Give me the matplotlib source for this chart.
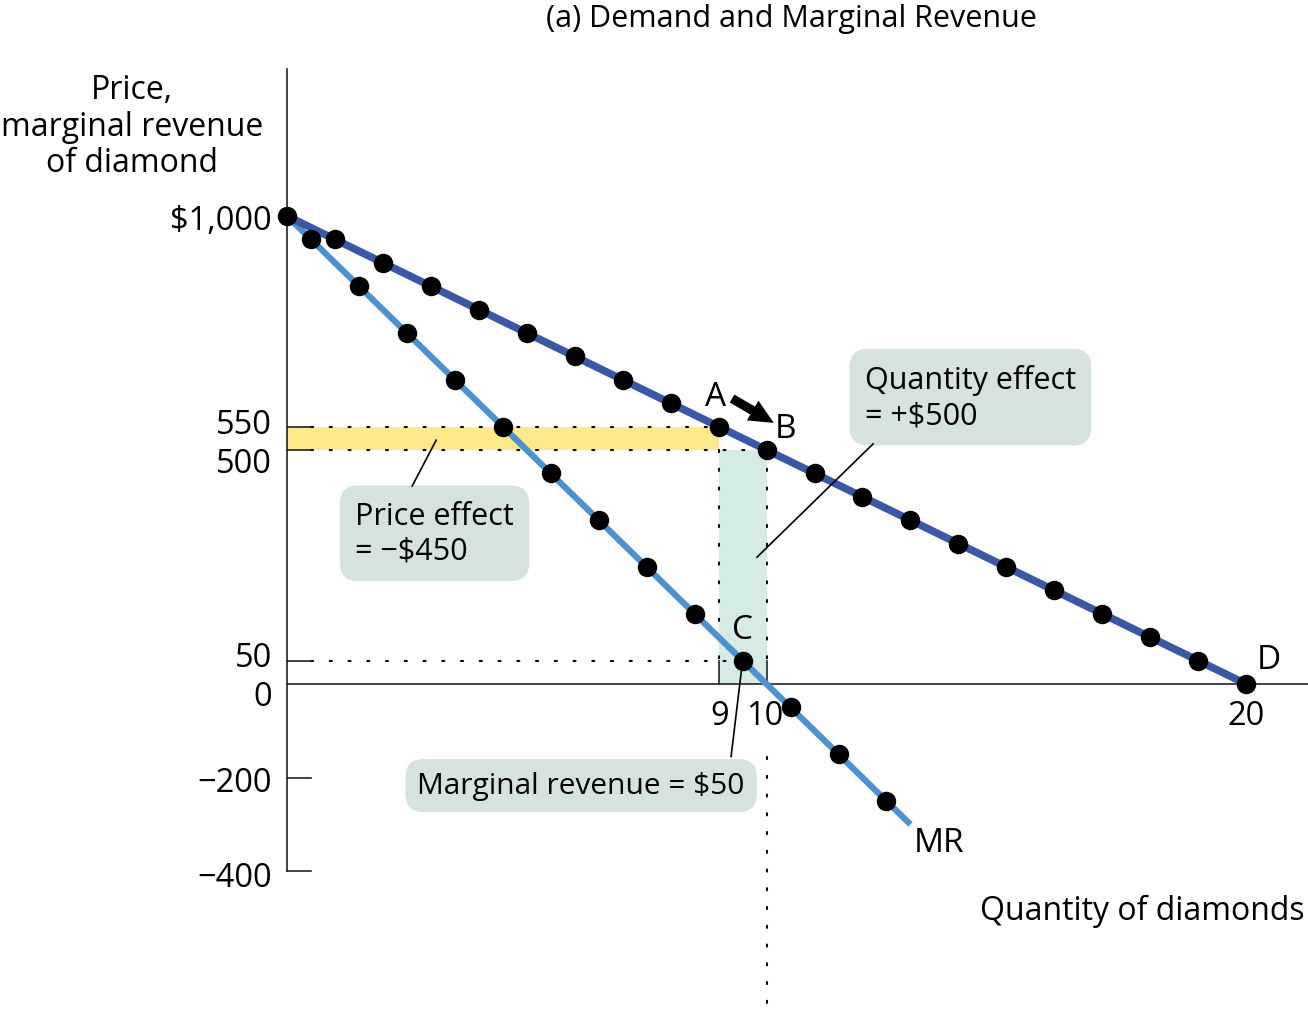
import matplotlib
matplotlib.use("Agg")
import matplotlib.pyplot as plt

plt.rcParams['font.family'] = ['Open Sans', 'DejaVu Sans']

# demand schedule: price of a diamond at each quantity
quantity = [0, 1, 2, 3, 4, 5, 6, 7, 8, 9, 10, 11, 12, 13, 14, 15, 16, 17, 18, 19, 20]
price = [1000, 950, 900, 850, 800, 750, 700, 650, 600, 550, 500,
         450, 400, 350, 300, 250, 200, 150, 100, 50, 0]

# marginal revenue, plotted at the midpoint between quantities
mr_quantity = [0.5, 1.5, 2.5, 3.5, 4.5, 5.5, 6.5, 7.5, 8.5, 9.5, 10.5, 11.5, 12.5]
mr_value = [950, 850, 750, 650, 550, 450, 350, 250, 150, 50, -50, -150, -250]
mr_line_q = [0, 13]
mr_line_v = [1000, -300]

# the move from A to B
q_a, p_a = 9, 550
q_b, p_b = 10, 500
mr_c = 50

ytick_vals = [1000, 550, 500, 50, 0, -200, -400]
ytick_labels = ['$1,000', '550', '500', '50', '0', '\u2212200', '\u2212400']
ytick_nudge = [-4, 2, -13, 3, -12, -5, -6]   # pixel nudges to keep labels apart
xtick_vals = [9, 10, 20]

DEMAND = '#3b58a8'
MR_COL = '#4a92d2'
YELLOW = '#fde98a'
GREEN = '#d5ebe5'
BOX = '#d6e2df'

fig = plt.figure(figsize=(13.08, 10.12), dpi=100)
ax = fig.add_axes([0, 0, 1, 1])
ax.set_xlim(-5.985, 21.29)
ax.set_ylim(-698.7, 1463.7)
ax.set_xticks([])
ax.set_yticks([])
for s in ['top', 'right']:
    ax.spines[s].set_visible(False)
ax.spines['left'].set_position(('data', 0))
ax.spines['left'].set_bounds(-400, 1314)
ax.spines['bottom'].set_position(('data', 0))
ax.spines['bottom'].set_bounds(0, 21.29)
for s in ['left', 'bottom']:
    ax.spines[s].set_linewidth(1.2)
    ax.spines[s].set_color('#222222')
    ax.spines[s].set_zorder(3)

# price effect and quantity effect areas
ax.fill_between([0, q_a], p_b, p_a, color=YELLOW, lw=0, zorder=1)
ax.fill_between([q_a, q_b], 0, p_b, color=GREEN, lw=0, zorder=1)

dot = dict(color='black', lw=1.5, ls=(0, (1, 8)), dash_capstyle='round', zorder=2)
ax.plot([0.5, q_a], [p_a, p_a], **dot)
ax.plot([0.5, q_b], [p_b, p_b], **dot)
ax.plot([0.5, mr_quantity[9]], [mr_c, mr_c], **dot)
ax.plot([q_a, q_a], [p_b, mr_c], **dot)
ax.plot([q_b, q_b], [p_b, mr_c], **dot)
ax.plot([q_b, q_b], [-155, -700], **dot)

# tick marks
for v in [550, 500, 50, -200, -400]:
    ax.plot([0, 0.5], [v, v], color='#222222', lw=1.2, zorder=3)
for q in [q_a, q_b]:
    ax.plot([q, q], [0, 50], color='#222222', lw=1.2, zorder=3)

for v, lab, dy in zip(ytick_vals, ytick_labels, ytick_nudge):
    ax.annotate(lab, xy=(0, v), xytext=(-15, dy), textcoords='offset pixels',
                ha='right', va='center', fontsize=23.5)
for q, dx in zip(xtick_vals, [1, -2, 0]):
    ax.annotate(str(q), xy=(q, 0), xytext=(dx, -31), textcoords='offset pixels',
                ha='center', va='center', fontsize=23.5)

# curves
ax.plot(mr_line_q, mr_line_v, color=MR_COL, lw=4.5, zorder=4, solid_capstyle='butt')
ax.plot([quantity[0], quantity[-1]], [price[0], price[-1]], color=DEMAND, lw=5.5,
        zorder=5, solid_capstyle='butt')
ax.plot(mr_quantity, mr_value, 'o', color='black', ms=13, zorder=6)
ax.plot(quantity, price, 'o', color='black', ms=13, zorder=6)

# point labels
ax.annotate('A', xy=(q_a, p_a), xytext=(-3, 30), textcoords='offset pixels',
            ha='center', va='center', fontsize=24)
ax.annotate('B', xy=(q_b, p_b), xytext=(19, 22), textcoords='offset pixels',
            ha='center', va='center', fontsize=24)
ax.annotate('C', xy=(mr_quantity[9], mr_c), xytext=(0, 31), textcoords='offset pixels',
            ha='center', va='center', fontsize=24)
ax.annotate('D', xy=(quantity[-1], price[-1]), xytext=(23, 25), textcoords='offset pixels',
            ha='center', va='center', fontsize=24)
ax.annotate('MR', xy=(mr_line_q[1], mr_line_v[1]), xytext=(29, -18),
            textcoords='offset pixels', ha='center', va='center', fontsize=24)
ax.annotate('', xy=(10.15, 558), xytext=(9.28, 610),
            arrowprops=dict(arrowstyle='simple,head_width=0.75,head_length=0.8,tail_width=0.3',
                            color='black', lw=0, mutation_scale=22,
                            shrinkA=0, shrinkB=0), zorder=7)

# callout boxes with leader lines
box = dict(boxstyle='round,pad=0.5,rounding_size=0.6', fc=BOX, ec='none')
ax.text(1.42, 322, 'Price effect\n= \u2212$450', fontsize=22, ha='left', va='center',
        linespacing=1.22, bbox=box, zorder=8)
ax.plot([2.61, 3.11], [423, 521], color='black', lw=1.2, zorder=8)

ax.text(12.05, 613, 'Quantity effect\n= +$500', fontsize=22, ha='left', va='center',
        linespacing=1.22, bbox=box, zorder=8)
ax.plot([12.22, 9.8], [513, 271], color='black', lw=1.2, zorder=8)

ax.text(2.72, -217, 'Marginal revenue = $50', fontsize=21.5, ha='left', va='center',
        bbox=dict(boxstyle='round,pad=0.4,rounding_size=0.6', fc=BOX, ec='none'), zorder=8)
ax.plot([9.26, mr_quantity[9]], [-155, mr_c], color='black', lw=1.2, zorder=5)

fig.text(791 / 1308, 1 - 19 / 1012, '(a) Demand and Marginal Revenue',
         ha='center', va='center', fontsize=22)
fig.text(132 / 1308, 1 - 127 / 1012, 'Price,\nmarginal revenue\nof diamond',
         ha='center', va='center', fontsize=23, linespacing=1.15)
fig.text(1305 / 1308, 1 - 911 / 1012, 'Quantity of diamonds',
         ha='right', va='center', fontsize=23)

fig.savefig('out.png', dpi=100)
